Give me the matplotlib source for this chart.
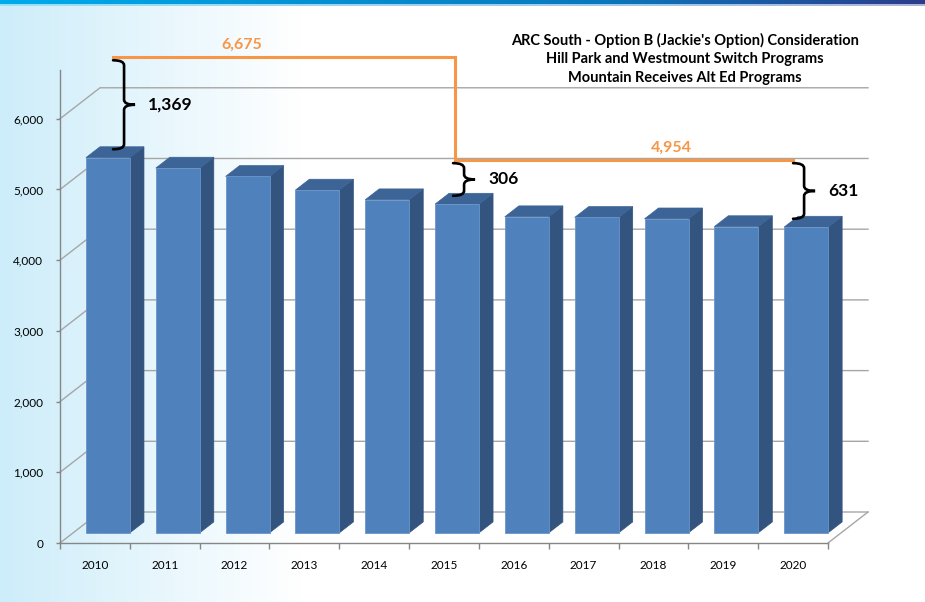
import matplotlib
matplotlib.use('Agg')
import matplotlib.pyplot as plt
import numpy as np
from matplotlib.patches import Polygon, PathPatch
from matplotlib.path import Path

# data
years = ['2010', '2011', '2012', '2013', '2014', '2015', '2016', '2017', '2018', '2019', '2020']
enrolment = [5306, 5158, 5040, 4847, 4710, 4648, 4470, 4460, 4440, 4330, 4323]
capacity = [6675, 4954]          # before / after the switch
brace_bars = [0, 5, 10]          # bars that get a gap bracket
brace_caps = [0, 1, 1]           # capacity each bracket is measured against
yticks = [0, 1000, 2000, 3000, 4000, 5000, 6000]
title_lines = ["ARC South - Option B (Jackie's Option) Consideration",
               "Hill Park and Westmount Switch Programs",
               "Mountain Receives Alt Ed Programs"]

plt.rcParams['font.family'] = ['Lato', 'DejaVu Sans']

W, H = 925, 602
fig = plt.figure(figsize=(W / 100, H / 100), dpi=100)

# background: light blue wash on the left, blue band on top
bg = fig.add_axes([0, 0, 1, 1], zorder=-10)
img = np.ones((H, W, 3))
t = np.clip(np.arange(W) / 300.0, 0, 1)
left = np.array([205, 237, 250]) / 255.
img[:, :, :] = (left[None, :] * (1 - t[:, None]) + t[:, None])[None, :, :]
band_l = np.array([0, 172, 236]) / 255.
band_m = np.array([10, 120, 190]) / 255.
band_r = np.array([44, 60, 140]) / 255.
u = np.arange(W) / (W - 1)
band = np.where(u[:, None] < 0.65,
                band_l + (band_m - band_l) * (u[:, None] / 0.65),
                band_m + (band_r - band_m) * ((u[:, None] - 0.65) / 0.35))
img[0:4] = band[None, :, :]
img[4:6] = (band[None, :, :] + 1.6) / 2.6
bg.imshow(img, aspect='auto', extent=[0, 1, 0, 1])
bg.axis('off')

# main axes = front plane of the 3D box
ax = fig.add_axes([60 / W, 59 / H, 768 / W, 473 / H])
ymax = 6690
ax.set_xlim(0, len(years))
ax.set_ylim(0, ymax)
ax.patch.set_alpha(0)

PXX = len(years) / 768.   # data units per pixel
PXY = ymax / 473.
DXF, DYF = 40 * PXX, 31 * PXY   # full depth of the box


def pt(x, v, d):
    return (x + d * DXF, v + d * DYF)


grid_c = '#a6a6a6'
for v in yticks:
    ax.plot([0, DXF, len(years) + DXF], [v, v + DYF, v + DYF], color=grid_c, lw=1, clip_on=False, zorder=1)
ax.plot([len(years), len(years) + DXF], [0, DYF], color=grid_c, lw=1, clip_on=False, zorder=1)

# 3D bars
d0, d1 = 0.33, 0.68
gap, bw = 0.183, 0.63
for i, v in enumerate(enrolment):
    xl, xr = i + gap, i + gap + bw
    front = [pt(xl, 0, d0), pt(xr, 0, d0), pt(xr, v, d0), pt(xl, v, d0)]
    side = [pt(xr, 0, d0), pt(xr, 0, d1), pt(xr, v, d1), pt(xr, v, d0)]
    top = [pt(xl, v, d0), pt(xr, v, d0), pt(xr, v, d1), pt(xl, v, d1)]
    ax.add_patch(Polygon(side, closed=True, facecolor='#33547e', edgecolor='#33547e', lw=0.5, zorder=2, clip_on=False))
    ax.add_patch(Polygon(top, closed=True, facecolor='#3c6496', edgecolor='#3c6496', lw=0.5, zorder=2, clip_on=False))
    ax.add_patch(Polygon(front, closed=True, facecolor='#4f81bd', edgecolor='#6a95c8', lw=0.6, zorder=3, clip_on=False))

# axes styling
for s in ['top', 'right']:
    ax.spines[s].set_visible(False)
for s in ['left', 'bottom']:
    ax.spines[s].set_color('#868686')
    ax.spines[s].set_linewidth(1)
ax.set_yticks(yticks)
ax.set_yticklabels(['{:,}'.format(v) for v in yticks], fontsize=8.5)
ax.tick_params(axis='y', length=3, width=1, color='#868686', pad=9)
ax.set_xticks(np.arange(len(years) + 1))
ax.set_xticklabels([])
ax.tick_params(axis='x', which='major', length=4, width=1, color='#868686')
ax.set_xticks(np.arange(len(years)) + 0.5, minor=True)
ax.set_xticklabels(years, minor=True, fontsize=8.5)
ax.tick_params(axis='x', which='minor', length=0, pad=12)

# annotation: capacity step line
orange = '#f79646'
levels = [6870, 5415]           # where the lines sit on the picture
step_x = 5.655
hook_x = [0.76, 5.63, 10.5]
ax.plot([hook_x[0], step_x, step_x, hook_x[2]], [levels[0], levels[0], levels[1], levels[1]],
        color=orange, lw=2.2, clip_on=False, zorder=4, solid_joinstyle='miter')
cap_label_x = [2.61, 8.75]
for k, c in enumerate(capacity):
    ax.text(cap_label_x[k], levels[k] + 12 * PXY, '{:,}'.format(c), color=orange, fontsize=11.5,
            fontweight='bold', ha='center', va='center', zorder=5)


def brace(x0, yt, yb):
    x1, x2 = x0 + 11 * PXX, x0 + 22 * PXX
    r = 5 * PXY
    ym = (yt + yb) / 2
    verts = [(x0, yt), (x1, yt), (x1, yt - r), (x1, ym + r), (x1, ym), (x2, ym),
             (x1, ym), (x1, ym - r), (x1, yb + r), (x1, yb), (x0, yb)]
    codes = [Path.MOVETO, Path.CURVE3, Path.CURVE3, Path.LINETO, Path.CURVE3, Path.CURVE3,
             Path.CURVE3, Path.CURVE3, Path.LINETO, Path.CURVE3, Path.CURVE3]
    ax.add_patch(PathPatch(Path(verts, codes), facecolor='none', edgecolor='black', lw=1.9,
                           clip_on=False, zorder=6, capstyle='round'))
    return ym


for k, b in enumerate(brace_bars):
    cap = capacity[brace_caps[k]]
    yt = levels[brace_caps[k]] - 3 * PXY
    yb = enrolment[b] + 0.6 * DYF
    ym = brace(hook_x[k], yt, yb)
    ax.text(hook_x[k] + 35 * PXX, ym, '{:,}'.format(cap - enrolment[b]), fontsize=12.5,
            fontweight='bold', color='black', ha='left', va='center', zorder=6)

for k, line in enumerate(title_lines):
    fig.text(685 / W, 1 - (40 + 19 * k) / H, line, fontsize=10.5, fontweight='bold',
             ha='center', va='center', color='black')

fig.savefig('out.png', dpi=100)
